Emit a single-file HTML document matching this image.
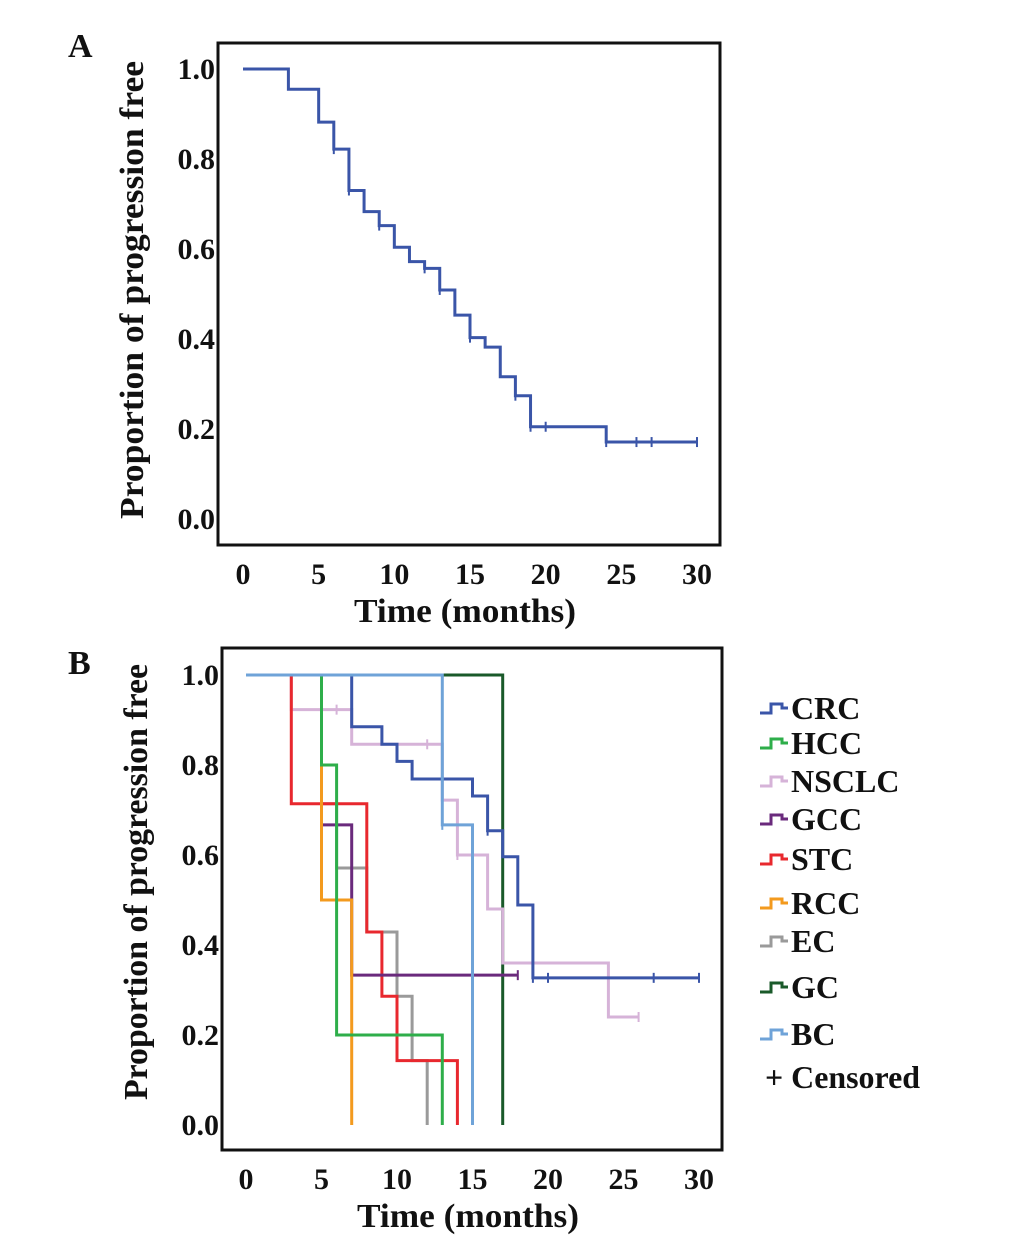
<!DOCTYPE html>
<html><head><meta charset="utf-8">
<style>
html,body{margin:0;padding:0;background:#fff;}
svg{display:block;font-family:"Liberation Serif",serif;font-weight:bold;}
</style></head>
<body>
<svg id="fig" width="1033" height="1243" viewBox="0 0 1033 1243" xmlns="http://www.w3.org/2000/svg">
<rect width="1033" height="1243" fill="#fff"/>
</svg>
<script>
// Panel A data
const aTimes = [0,3,5,6,7,8,9,10,11,12,13,14,15,16,17,18,19,24,30];
const aSurv  = [1,0.955,0.882,0.822,0.73,0.683,0.652,0.604,0.572,0.557,0.509,0.453,0.403,0.382,0.316,0.274,0.205,0.171,0.171];
const aCens  = [6,7,9,12,13,15,18,19,20,24,26,27,30];
// Panel B data
const bNames = ["CRC","HCC","NSCLC","GCC","STC","RCC","EC","GC","BC"];
const bColors = ["#3a55a8","#2eae4a","#d6b3d8","#6a2a7c","#e8282e","#f39a1e","#9a9a9a","#1a5a2a","#6fa3d8"];
const crcT=[0,7,9,10,11,15,16,17,18,19,30], crcS=[1,0.885,0.846,0.808,0.769,0.731,0.654,0.596,0.489,0.327,0.327], crcC=[16,19,20,27,30];
const hccT=[0,5,6,13], hccS=[1,0.8,0.2,0], hccC=[];
const nscT=[0,3,7,13,14,16,17,24,26], nscS=[1,0.923,0.846,0.722,0.6,0.48,0.36,0.24,0.24], nscC=[6,12,14,26];
const gccT=[0,5,7,18], gccS=[1,0.667,0.333,0.333], gccC=[18];
const stcT=[0,3,8,9,10,14], stcS=[1,0.714,0.429,0.286,0.143,0], stcC=[];
const rccT=[0,5,7], rccS=[1,0.5,0], rccC=[];
const ecT=[0,5,6,8,10,11,12], ecS=[1,0.714,0.571,0.429,0.286,0.143,0], ecC=[];
const gcT=[0,17], gcS=[1,0], gcC=[];
const bcT=[0,13,15], bcS=[1,0.667,0], bcC=[13];
const xTicks=[0,5,10,15,20,25,30];
const yTicks=[0,0.2,0.4,0.6,0.8,1.0];

const NS="http://www.w3.org/2000/svg";
const svg=document.getElementById('fig');
function mk(tag,attrs,parent){const e=document.createElementNS(NS,tag);for(const k in attrs)e.setAttribute(k,attrs[k]);(parent||svg).appendChild(e);return e;}

function panel(p){
  const g=mk('g',{});
  
  
  const sx=t=>p.x0+t*(p.x30-p.x0)/30;
  const sy=v=>p.y0+v*(p.y1-p.y0);
  const box=mk('rect',{x:p.L,y:p.T,width:p.R-p.L,height:p.B-p.T,fill:'none',stroke:'#111','stroke-width':3},g);
  
  
  xTicks.forEach(t=>{
    const tx=mk('text',{x:sx(t),y:p.B+39,'text-anchor':'middle','font-size':30,fill:'#111'},g);
    tx.textContent=t;
    
    
  });
  yTicks.forEach(v=>{
    const tx=mk('text',{x:p.L-3,y:sy(v)+10,'text-anchor':'end','font-size':30,fill:'#111'},g);
    tx.textContent=v.toFixed(1);
    
    
  });
  const xt=mk('text',{x:(p.L+p.R)/2-4,y:p.B+77,'text-anchor':'middle','font-size':34,fill:'#111',textLength:p.xLen,lengthAdjust:'spacingAndGlyphs'},g);
  xt.textContent='Time (months)';
  
  
  const yt=mk('text',{x:0,y:0,'text-anchor':'middle','font-size':34,fill:'#111',textLength:p.yLen,lengthAdjust:'spacingAndGlyphs',transform:`translate(${p.L-75},${p.yMid}) rotate(-90)`},g);
  yt.textContent='Proportion of progression free';
  
  
  const lt=mk('text',{x:p.letX,y:p.letY,'font-size':34,fill:'#111'},g);
  lt.textContent=p.letter;
  
  
  return {g,sx,sy};
}
function curve(ax,T,S,C,color,name){
  let d=`M${ax.sx(T[0])},${ax.sy(S[0])}`;
  for(let i=1;i<T.length;i++){d+=` H${ax.sx(T[i])} V${ax.sy(S[i])}`;}
  const path=mk('path',{d,fill:'none',stroke:color,'stroke-width':3},ax.g);
  
  
  C.forEach(c=>{
    let v=S[0];for(let i=0;i<T.length;i++){if(T[i]<=c)v=S[i];}
    const m=mk('path',{d:`M${ax.sx(c)},${ax.sy(v)-5} v10`,stroke:color,'stroke-width':2},ax.g);
    
    
  });
}
const A=panel({name:'panel-a',letter:'A',letX:68,letY:57,L:218,T:43,R:720,B:545,x0:243,x30:697,y0:519,y1:69,xLen:222,yLen:458,yMid:290});
curve(A,aTimes,aSurv,aCens,'#3a55a8','pfs');
const B=panel({name:'panel-b',letter:'B',letX:68,letY:674,L:222,T:648,R:722,B:1150,x0:246,x30:699,y0:1125,y1:675,xLen:222,yLen:436,yMid:882});
const series=[[crcT,crcS,crcC],[hccT,hccS,hccC],[nscT,nscS,nscC],[gccT,gccS,gccC],[stcT,stcS,stcC],[rccT,rccS,rccC],[ecT,ecS,ecC],[gcT,gcS,gcC],[bcT,bcS,bcC]];
const order=[6,7,2,0,4,3,5,1,8];
order.forEach(i=>curve(B,series[i][0],series[i][1],series[i][2],bColors[i],bNames[i].toLowerCase()));
// legend
const legY=[708,743,781,819,859,903,941,987,1034];
const lg=mk('g',{});


bNames.forEach((n,i)=>{
  const y=legY[i];
  const ic=mk('path',{d:`M760,${y+5} h11 v-9 h11 v4 h6`,fill:'none',stroke:bColors[i],'stroke-width':3},lg);
  
  
  const t=mk('text',{x:791,y:y+11,'font-size':32,fill:'#111'},lg);
  t.textContent=n;
  
  
});
const ct=mk('text',{x:765,y:1088,'font-size':32,fill:'#111',textLength:155,lengthAdjust:'spacingAndGlyphs'},lg);
ct.textContent='+ Censored';


</script>
</body></html>
